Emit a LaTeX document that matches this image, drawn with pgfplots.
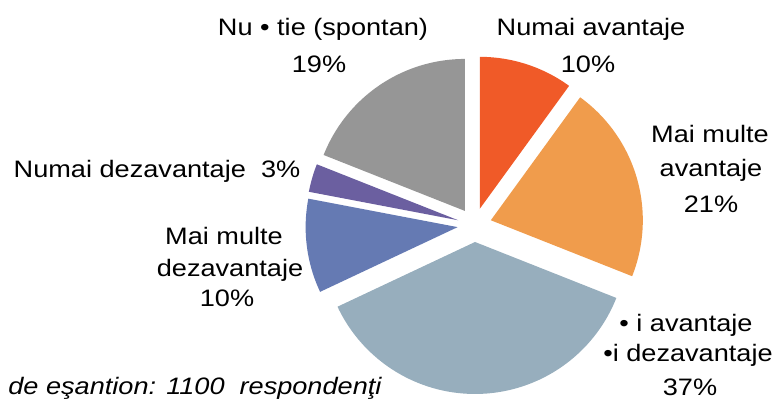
\documentclass[border=0pt]{standalone}
\usepackage{pgfplots}
\pgfplotsset{compat=1.18}
\usepackage{fontspec}
\setmainfont{Liberation Sans}[FakeStretch=1.14]
\definecolor{cOrange}{RGB}{240,90,40}
\definecolor{cLOrange}{RGB}{240,156,76}
\definecolor{cBlueGray}{RGB}{151,174,189}
\definecolor{cBlue}{RGB}{101,122,179}
\definecolor{cPurple}{RGB}{107,95,160}
\definecolor{cGray}{RGB}{150,150,150}
% slice: colour, cumulative percent before, percent
\newcommand{\slice}[3]{%
  \addplot[fill=#1, draw=none, domain=90-3.6*(#2+#3):90-3.6*#2, samples=90, variable=\t]
  ({474.5+17*cos(90-3.6*(#2+#3/2))+152*cos(\t)}, {177+17*sin(90-3.6*(#2+#3/2))+152*sin(\t)})
  -- (axis cs:{474.5+17*cos(90-3.6*(#2+#3/2))},{177+17*sin(90-3.6*(#2+#3/2))}) -- cycle;}
\begin{document}
\begin{tikzpicture}[every node/.style={font=\fontsize{11.9}{14}\selectfont, inner sep=0pt}]
\useasboundingbox (0,0) rectangle (391.5pt,201pt);
\begin{axis}[at={(0,0)}, anchor=south west, x=0.5pt, y=0.5pt,
  xmin=0, xmax=783, ymin=0, ymax=402, hide axis, clip=false]
\slice{cOrange}{0}{10}
\slice{cLOrange}{10}{21}
\slice{cBlueGray}{31}{37}
\slice{cBlue}{68}{10}
\slice{cPurple}{78}{3}
\slice{cGray}{81}{19}
% labels
\node[anchor=base] at (axis cs:323,366) {Nu • tie (spontan)};
\node[anchor=base] at (axis cs:319,329) {19\%};
\node[anchor=base] at (axis cs:591,366) {Numai avantaje};
\node[anchor=base] at (axis cs:588,329) {10\%};
\node[anchor=base] at (axis cs:710,259) {Mai multe};
\node[anchor=base] at (axis cs:711,225) {avantaje};
\node[anchor=base] at (axis cs:711,189) {21\%};
\node[anchor=base] at (axis cs:686,70) {• i avantaje};
\node[anchor=base] at (axis cs:688,40) {•i dezavantaje};
\node[anchor=base] at (axis cs:690,6) {37\%};
\node[anchor=base] at (axis cs:157,224) {Numai dezavantaje\ \ 3\%};
\node[anchor=base] at (axis cs:224,157) {Mai multe};
\node[anchor=base] at (axis cs:230,125) {dezavantaje};
\node[anchor=base] at (axis cs:227,95) {10\%};
\node[anchor=base west] at (axis cs:8,7) {\itshape de eşantion: 1100\ \ respondenţi};
\end{axis}
\end{tikzpicture}
\end{document}
